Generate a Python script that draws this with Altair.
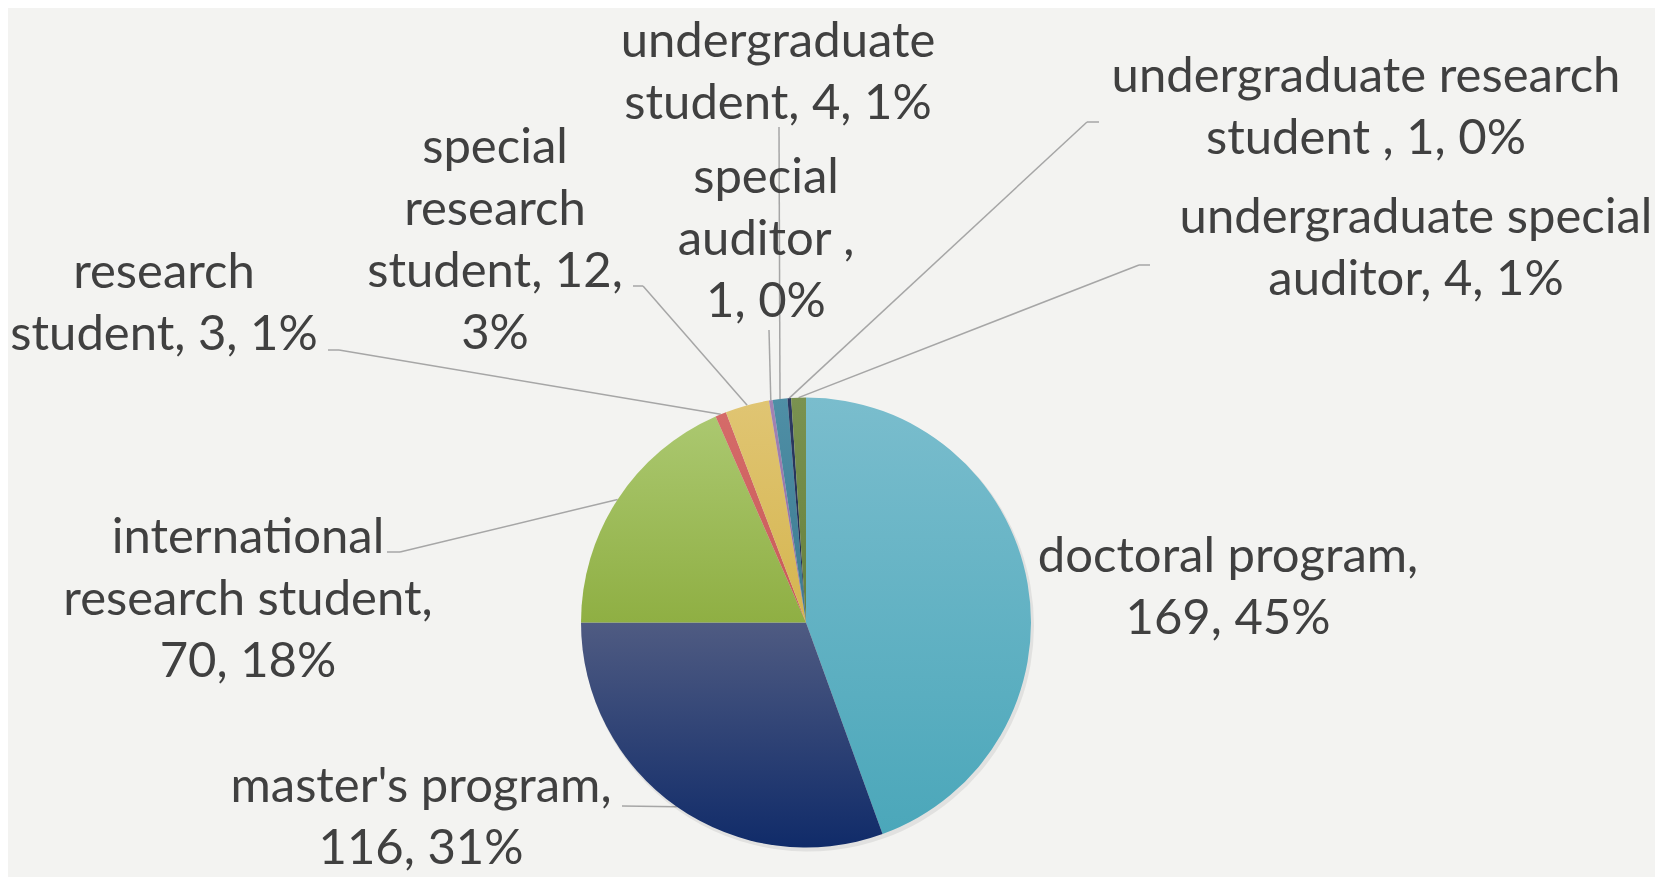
import altair as alt
import pandas as pd

# ---------------- data ----------------
categories = [
    "doctoral program",
    "master's program",
    "international research student",
    "research student",
    "special research student",
    "special auditor ",
    "undergraduate student",
    "undergraduate research student ",
    "undergraduate special auditor",
]
counts = [169, 116, 70, 3, 12, 1, 4, 1, 4]
pct_labels = ["45%", "31%", "18%", "1%", "3%", "0%", "1%", "0%", "1%"]

# ---------------- layout / style ----------------
OFF = 8  # page margin
CX, CY, R = 806 - OFF, 622.5 - OFF, 225
W, H = 1647, 869

words_per_line = [[2, 2], [2, 2], [1, 2, 2], [1, 3], [1, 1, 2, 1], [1, 2, 2], [1, 3], [2, 4], [2, 3]]
label_pos = [(1228, 572), (421, 802), (248, 553), (164, 288), (495, 163),
             (766, 193), (778, 57), (1366, 92), (1416, 233)]
leader_start = [None, (622, 806), (387, 552), (328, 350), (633, 286),
                (769, 330), (779, 127), (1099, 122), (1150, 265)]
leader_elbow = [None, (622, 806), (400, 552), (339, 350), (643, 286),
                (769, 330), (779, 127), (1087, 122), (1139, 265)]
grad = [
    ("#7ABDCD", "#4BA7BA"),
    ("#4F5B82", "#102B69"),
    ("#ABC870", "#8FAF43"),
    ("#D56B69", "#C85A58"),
    ("#E0C573", "#D5B54F"),
    ("#A384B4", "#8D6AA0"),
    ("#4F8FA6", "#3C7A90"),
    ("#2D3A62", "#1E2B50"),
    ("#7A9250", "#66803C"),
]
TEXT_COLOR = "#404040"
LINE_COLOR = "#A6A6A6"
BG = "#F3F3F1"


def wrap(text, counts_):
    w = text.split(" ")
    out, i = [], 0
    for n in counts_:
        out.append(" ".join(w[i:i + n]))
        i += n
    return "\n".join(out)


labels = [wrap(f"{c}, {v}, {p}", wl) for c, v, p, wl in zip(categories, counts, pct_labels, words_per_line)]

df = pd.DataFrame({
    "cat": categories,
    "count": counts,
    "idx": list(range(len(categories))),
    "label": labels,
    "lx": [p[0] - OFF for p in label_pos],
    "ly": [p[1] - OFF for p in label_pos],
    "has_leader": [s is not None for s in leader_start],
    "sx": [s[0] - OFF if s else None for s in leader_start],
    "sy": [s[1] - OFF if s else None for s in leader_start],
    "ex": [e[0] - OFF if e else None for e in leader_elbow],
    "ey": [e[1] - OFF if e else None for e in leader_elbow],
})

conds = [
    {
        "test": f"datum.idx === {i}",
        "value": {
            "gradient": "linear", "x1": 0, "y1": 0, "x2": 0, "y2": 1,
            "stops": [{"offset": 0, "color": a}, {"offset": 1, "color": b}],
        },
    }
    for i, (a, b) in enumerate(grad)
]

base = alt.Chart(df)

shadow = base.mark_arc(radius=R + 1, color="#000000", opacity=0.07).encode(
    theta=alt.Theta("count:Q", stack=True),
    order=alt.Order("idx:Q", sort="ascending"),
    x=alt.value(CX + 2),
    y=alt.value(CY + 3),
)

pie = base.mark_arc(radius=R).encode(
    theta=alt.Theta("count:Q", stack=True),
    order=alt.Order("idx:Q", sort="ascending"),
    fill=alt.value("#999999", condition=conds),
    x=alt.value(CX),
    y=alt.value(CY),
)

lead = (
    base.transform_window(cum="sum(count)", sort=[alt.SortField("idx")], frame=[None, 0])
    .transform_joinaggregate(total="sum(count)")
    .transform_calculate(a="2*PI*(datum.cum - datum.count/2)/datum.total")
    .transform_calculate(px=f"{CX} + {R}*sin(datum.a)", py=f"{CY} - {R}*cos(datum.a)")
    .transform_filter("datum.has_leader")
)

rule1 = lead.mark_rule(color=LINE_COLOR, strokeWidth=1.5).encode(
    x=alt.X("sx:Q", scale=None, axis=None),
    y=alt.Y("sy:Q", scale=None, axis=None),
    x2="ex:Q",
    y2="ey:Q",
)
rule2 = lead.mark_rule(color=LINE_COLOR, strokeWidth=1.5).encode(
    x=alt.X("ex:Q", scale=None, axis=None),
    y=alt.Y("ey:Q", scale=None, axis=None),
    x2="px:Q",
    y2="py:Q",
)

text = base.mark_text(
    font="Lato", fontSize=49, color=TEXT_COLOR, align="center",
    baseline="alphabetic", lineBreak="\n", lineHeight=62,
).encode(
    x=alt.X("lx:Q", scale=None, axis=None),
    y=alt.Y("ly:Q", scale=None, axis=None),
    text="label:N",
)

chart = (
    alt.layer(rule1, rule2, shadow, pie, text)
    .properties(width=W, height=H, autosize=alt.AutoSizeParams(type="none"), padding=0, background=BG)
    .configure_view(stroke=None)
)

chart.save("out.html", embed_options={"renderer": "svg", "actions": False})
